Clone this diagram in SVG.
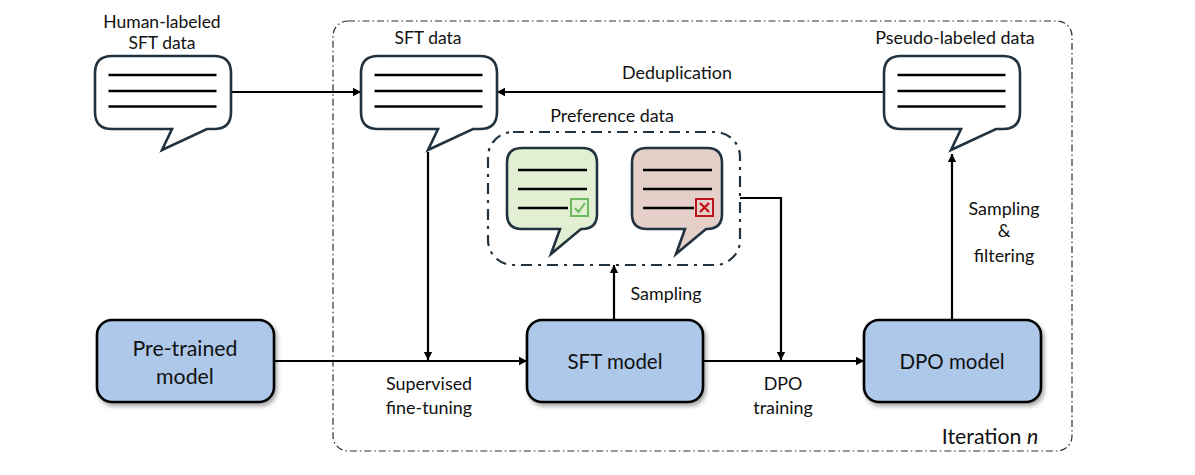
<svg xmlns="http://www.w3.org/2000/svg" width="1195" height="475" viewBox="0 0 1195 475">
<style>
text{font-family:Lato,"Open Sans","Liberation Sans",sans-serif;font-size:17.9px;fill:#111;text-anchor:middle}
.big{font-size:20.5px}
.pt{font-size:21.3px}
.hl{font-size:17.5px}
.frame{fill:none;stroke:#22333f;stroke-linecap:butt}
.bub{stroke:#22333f;stroke-width:2.6;stroke-linejoin:miter}
.ln{stroke:#000;stroke-width:2.4;fill:none}
.model{fill:#aec8e9;stroke:#000;stroke-width:2.6;filter:url(#sh)}
.con{stroke:#000;stroke-width:2.2;fill:none}
.arr{marker-end:url(#ah)}
</style>
<defs>
<marker id="ah" markerUnits="userSpaceOnUse" markerWidth="9" markerHeight="10" refX="8" refY="5" orient="auto"><path d="M0 0.800L8 5L0 9.200Z" fill="#000"/></marker>
<filter id="sh" x="-10%" y="-10%" width="125%" height="130%"><feDropShadow dx="2" dy="3" stdDeviation="2" flood-color="#000" flood-opacity="0.35"/></filter>
<path id="b1" d="M17 0H119Q136 0 136 17V56Q136 73 119 73H112L67 94L77 73H17Q0 73 0 56V17Q0 0 17 0Z"/>
<path id="b2" d="M15 0H75Q90 0 90 15V66Q90 81 75 81H74L44 106L53 81H15Q0 81 0 66V15Q0 0 15 0Z"/>
<g id="ls"><path class="ln" d="M13.500 19H121.500M13.500 35H121.500M13.500 50.500H121.500"/></g>
</defs>
<g id="iteration"><rect class="frame" x="333" y="21" width="739" height="430" rx="15" stroke-width="1.2" stroke-dasharray="7 3 1.500 3"/><text x="990" y="444" style="font-size:21.3px">Iteration <tspan font-style="italic">n</tspan></text></g>
<g id="connectors">
<path class="con arr" d="M231 92H361"/>
<path class="con arr" d="M884 92H497"/>
<path class="con arr" d="M428 152V360"/>
<path class="con" d="M274 361H527" marker-end="url(#ah)"/>
<path class="con arr" d="M703 361H864"/>
<path class="con arr" d="M740 198H781V360"/>
<path class="con arr" d="M614 320V265"/>
<path class="con arr" d="M952 320V154"/>
</g>
<g id="human-data"><text class="hl" x="162" y="28">Human-labeled</text><text class="hl" x="162" y="49.200">SFT data</text><use href="#b1" x="95" y="56" class="bub" fill="#fff"/><use href="#ls" x="95" y="56"/></g>
<g id="sft-data"><text class="hl" x="428" y="44">SFT data</text><use href="#b1" x="361" y="56" class="bub" fill="#fff"/><use href="#ls" x="361" y="56"/></g>
<g id="pseudo-data"><text x="955" y="44">Pseudo-labeled data</text><use href="#b1" x="884" y="56" class="bub" fill="#fff"/><use href="#ls" x="884" y="56"/></g>
<g id="preference-data"><rect class="frame" x="488" y="132" width="252" height="133" rx="25" stroke-width="2.200" stroke-dasharray="11 6 3 6"/><text x="612" y="122">Preference data</text></g>
<g id="chosen"><use href="#b2" x="507" y="148" class="bub" fill="#e2efd3"/><path class="ln" d="M518 170H587M518 189H587M518 208H568"/><rect x="571" y="199" width="17" height="17" fill="#e2efd3" stroke="#6bb85f" stroke-width="2"/><path d="M575 208L578.500 212L585 203" fill="none" stroke="#6bb85f" stroke-width="2"/></g>
<g id="rejected"><use href="#b2" x="632" y="148" class="bub" fill="#e5d0c9"/><path class="ln" d="M643 170H712M643 189H712M643 208H694"/><rect x="696" y="199" width="17" height="17" fill="#e5d0c9" stroke="#c0141c" stroke-width="2"/><path d="M700 203L709 212M709 203L700 212" fill="none" stroke="#c0141c" stroke-width="2.400"/></g>
<g id="pretrained"><rect class="model" x="97" y="320" width="177" height="82" rx="15"/><text class="pt" x="185" y="356">Pre-trained</text><text class="pt" x="185" y="384">model</text></g>
<g id="sft-model"><rect class="model" x="527" y="320" width="176" height="82" rx="15"/><text class="big" x="615" y="369">SFT model</text></g>
<g id="dpo-model"><rect class="model" x="864" y="320" width="177" height="82" rx="15"/><text class="big" x="952" y="369">DPO model</text></g>
<g id="labels">
<text x="677" y="79">Deduplication</text>
<text x="666" y="300">Sampling</text>
<text x="1004" y="215">Sampling</text><text x="1004" y="237">&amp;</text><text x="1004" y="262">filtering</text>
<text x="429" y="390">Supervised</text><text x="429" y="414">fine-tuning</text>
<text x="783" y="390">DPO</text><text x="783" y="414">training</text>
</g>
</svg>
